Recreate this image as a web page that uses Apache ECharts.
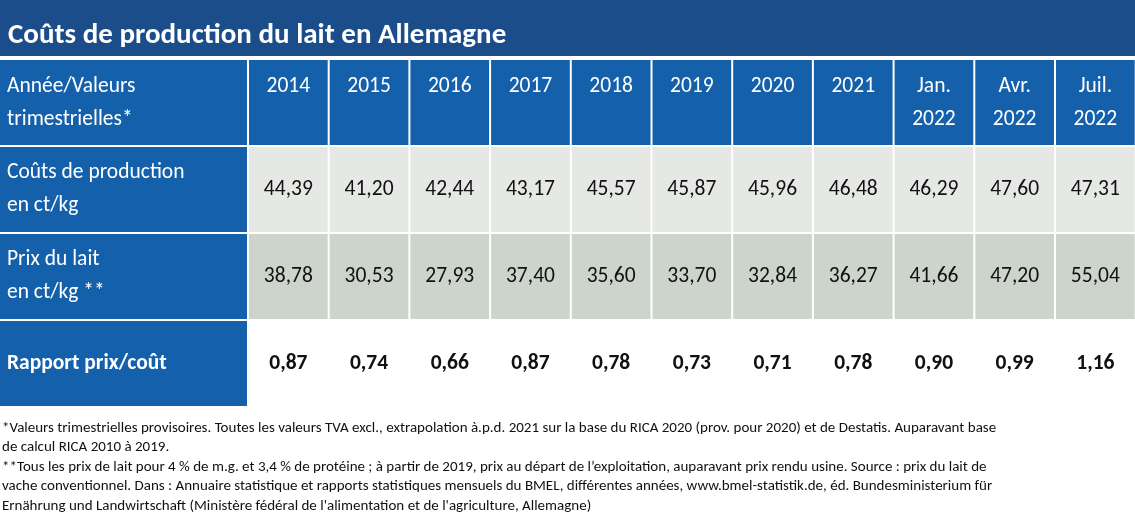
<!DOCTYPE html>
<html><head><meta charset="utf-8">
<script src="https://cdn.jsdelivr.net/npm/echarts@6/dist/echarts.min.js"></script>
<style>html,body{margin:0;padding:0;background:#fff}#c{width:1135px;height:520px}</style>
</head><body><div id="c"></div>
<script>
const columns = ['2014','2015','2016','2017','2018','2019','2020','2021','Jan.\n2022','Avr.\n2022','Juil.\n2022'];
const rowLabels = ['Année/Valeurs\ntrimestrielles*','Coûts de production\nen ct/kg','Prix du lait\nen ct/kg **','Rapport prix/coût'];
const costs = ['44,39','41,20','42,44','43,17','45,57','45,87','45,96','46,48','46,29','47,60','47,31'];
const prices = ['38,78','30,53','27,93','37,40','35,60','33,70','32,84','36,27','41,66','47,20','55,04'];
const ratio = ['0,87','0,74','0,66','0,87','0,78','0,73','0,71','0,78','0,90','0,99','1,16'];

const firstW = 247, colW = 80.7, gap = 2;
const edges = [0, firstW + gap];
for (let i = 1; i <= columns.length; i++) edges.push(firstW + gap + i * colW);

const cells = [];
rowLabels.forEach((t, r) => cells.push([0, r, t]));
columns.forEach((t, c) => cells.push([c + 1, 0, t]));
[costs, prices, ratio].forEach((arr, k) => arr.forEach((v, c) => cells.push([c + 1, k + 1, v])));

const blue = '#1460aa';
const fills = [blue, '#e5e8e4', '#ccd4cc', '#ffffff'];
const F = 'Carlito, Lato, "Open Sans", sans-serif';

const chart = echarts.init(document.getElementById('c'));
chart.setOption({
  animation: false,
  grid: {left: 0, right: 0, top: 60, bottom: 112},
  xAxis: {type: 'value', min: 0, max: 1135, show: false},
  yAxis: {type: 'value', min: 0, max: 4, inverse: true, show: false},
  series: [{
    type: 'custom',
    data: cells,
    renderItem: function (params, api) {
      const c = api.value(0), r = api.value(1);
      const t = cells[params.dataIndex][2];
      const p0 = api.coord([edges[c], r]);
      const p1 = api.coord([edges[c + 1], r + 1]);
      const x = p0[0], y = p0[1], w = p1[0] - p0[0] - gap, h = p1[1] - p0[1] - gap;
      const isHead = c === 0 || r === 0;
      const bold = r === 3;
      const top = r === 0;
      return {
        type: 'group',
        children: [
          {type: 'rect', shape: {x: x, y: y, width: w, height: h},
           style: {fill: isHead ? blue : fills[r]}},
          {type: 'text',
           style: {text: t, x: c === 0 ? x + 7 : x + w / 2, y: top ? y + 10 : y + h / 2,
             align: c === 0 ? 'left' : 'center', verticalAlign: top ? 'top' : 'middle',
             fill: isHead ? '#ffffff' : '#111111',
             font: (bold ? 'bold ' : '') + '21.5px ' + F, lineHeight: 33}}
        ]
      };
    }
  }],
  graphic: [
    {type: 'rect', shape: {x: 0, y: 0, width: 1135, height: 56}, style: {fill: '#1b4d8a'}},
    {type: 'text', style: {text: 'Coûts de production du lait en Allemagne', x: 8, y: 36,
      verticalAlign: 'middle', fill: '#fff', font: 'bold 29px ' + F}},
    {type: 'text', style: {x: 2, y: 418, fill: '#111', font: '15px ' + F, lineHeight: 19.5,
      text: '*Valeurs trimestrielles provisoires. Toutes les valeurs TVA excl., extrapolation à.p.d. 2021 sur la base du RICA 2020 (prov. pour 2020) et de Destatis. Auparavant base\nde calcul RICA 2010 à 2019.\n**Tous les prix de lait pour 4 % de m.g. et 3,4 % de protéine ; à partir de 2019, prix au départ de l’exploitation, auparavant prix rendu usine. Source : prix du lait de\nvache conventionnel. Dans : Annuaire statistique et rapports statistiques mensuels du BMEL, différentes années, www.bmel-statistik.de, éd. Bundesministerium für\nErnährung und Landwirtschaft (Ministère fédéral de l\'alimentation et de l\'agriculture, Allemagne)'}}
  ]
});
</script></body></html>
